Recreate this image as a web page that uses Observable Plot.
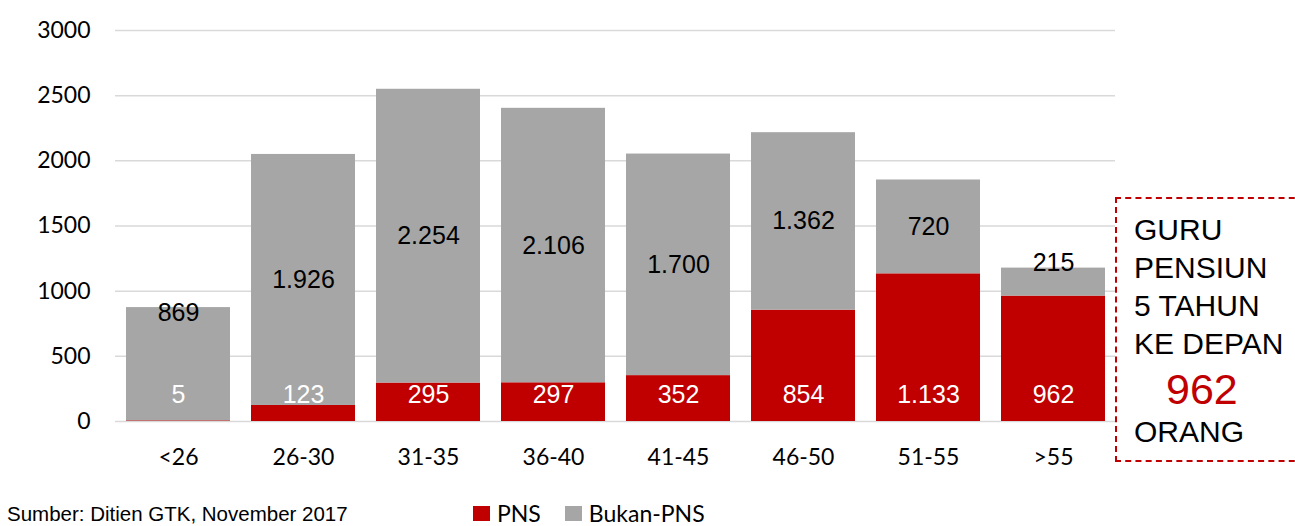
<!DOCTYPE html>
<html>
<head>
<meta charset="utf-8">
<script src="https://cdn.jsdelivr.net/npm/d3@7"></script>
<script src="https://cdn.jsdelivr.net/npm/@observablehq/plot@0.6"></script>
<style>
  html, body { margin: 0; padding: 0; background: #fff; }
  #wrap { position: relative; width: 1295px; height: 526px; overflow: hidden; }
  #box { position: absolute; left: 1115px; top: 197px; width: 190px; height: 265px;
         border: 2px dashed #C00000; box-sizing: border-box;
         font-family: "Liberation Sans", Arial, sans-serif; font-size: 30px; color: #000; }
  #box .l { position: absolute; left: 17px; line-height: 1; white-space: nowrap; }
  #box .big { color: #C00000; font-size: 43px; left: 49px; }
  #src { position: absolute; left: 7px; top: 504px; font-family: "Liberation Sans", Arial, sans-serif;
         font-size: 20.5px; line-height: 1; color: #000; white-space: nowrap; }
  #legend { position: absolute; left: 473px; top: 499px; font-family: Lato, sans-serif; font-size: 23px;
            display: flex; align-items: center; white-space: nowrap; }
  #legend .sw { display: inline-block; width: 17px; height: 15px; margin-right: 7px; }
  #legend .it { display: flex; align-items: center; margin-right: 24px; }
</style>
</head>
<body>
<div id="wrap"></div>
<script>
const categories = ["<26", "26-30", "31-35", "36-40", "41-45", "46-50", "51-55", ">55"];
const pns = [5, 123, 295, 297, 352, 854, 1133, 962];
const bukanPns = [869, 1926, 2254, 2106, 1700, 1362, 720, 215];
const seriesNames = ["PNS", "Bukan-PNS"];
const seriesColors = ["#C00000", "#A6A6A6"];
const yTicks = [0, 500, 1000, 1500, 2000, 2500, 3000];
const boxLines = ["GURU", "PENSIUN", "5 TAHUN", "KE DEPAN"];
const boxNumber = "962";
const boxLast = "ORANG";
const sourceText = "Sumber: Ditien GTK, November 2017";

const fmt = d3.formatLocale({decimal: ",", thousands: ".", grouping: [3], currency: ["", ""]}).format(",");

const rows = [];
categories.forEach((c, i) => {
  rows.push({cat: c, series: seriesNames[0], value: pns[i]});
  rows.push({cat: c, series: seriesNames[1], value: bukanPns[i]});
});
const labelsPns = categories.map((c, i) => ({cat: c, value: pns[i]}));
const labelsBukan = categories.map((c, i) => {
  const total = pns[i] + bukanPns[i];
  let y = pns[i] + bukanPns[i] / 2;
  if (pns[i] < 100) y = total - 38;
  else if (bukanPns[i] < 300) y = total + 38;
  return {cat: c, value: bukanPns[i], y};
});

const chart = Plot.plot({
  width: 1295,
  height: 526,
  marginTop: 30,
  marginBottom: 105,
  marginLeft: 115,
  marginRight: 180,
  style: {fontFamily: "Lato, sans-serif", fontSize: "23px", color: "#000", background: "#fff", overflow: "visible"},
  x: {domain: categories, paddingInner: 0.168, paddingOuter: 0.084, label: null, tickSize: 0, tickPadding: 27},
  y: {domain: [0, 3000], ticks: yTicks, label: null, tickSize: 0, tickPadding: 25, tickFormat: d => String(d)},
  color: {domain: seriesNames, range: seriesColors},
  marks: [
    Plot.ruleY(yTicks, {stroke: "#D9D9D9", strokeWidth: 1.5}),
    Plot.barY(rows, Plot.stackY({x: "cat", y: "value", fill: "series", order: seriesNames})),
    Plot.text(labelsPns, {x: "cat", y: 200, text: d => fmt(d.value), fill: "#fff",
      fontFamily: "Liberation Sans, Arial, sans-serif", fontSize: 25}),
    Plot.text(labelsBukan, {x: "cat", y: "y", text: d => fmt(d.value), fill: "#000",
      fontFamily: "Liberation Sans, Arial, sans-serif", fontSize: 25})
  ]
});

const wrap = document.getElementById("wrap");
wrap.appendChild(chart);

const box = document.createElement("div");
box.id = "box";
const tops = [16, 54, 92, 130];
boxLines.forEach((t, i) => {
  const d = document.createElement("div");
  d.className = "l"; d.style.top = tops[i] + "px"; d.textContent = t; box.appendChild(d);
});
const big = document.createElement("div");
big.className = "l big"; big.style.top = "169px"; big.textContent = boxNumber; box.appendChild(big);
const last = document.createElement("div");
last.className = "l"; last.style.top = "218px"; last.textContent = boxLast; box.appendChild(last);
wrap.appendChild(box);

const src = document.createElement("div");
src.id = "src"; src.textContent = sourceText; wrap.appendChild(src);

const legend = document.createElement("div");
legend.id = "legend";
seriesNames.forEach((s, i) => {
  const it = document.createElement("span"); it.className = "it";
  const sw = document.createElement("span"); sw.className = "sw"; sw.style.background = seriesColors[i];
  const tx = document.createElement("span"); tx.textContent = s;
  it.appendChild(sw); it.appendChild(tx); legend.appendChild(it);
});
wrap.appendChild(legend);
</script>
</body>
</html>
